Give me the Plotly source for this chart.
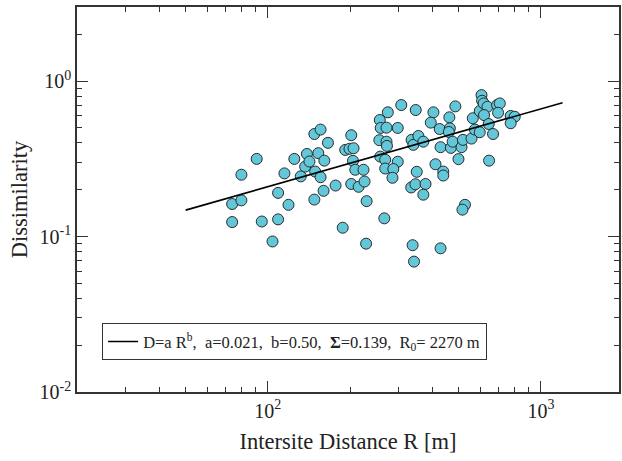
import plotly.graph_objects as go

# Intersite distance R [m] and dissimilarity D
R = [74, 74, 80, 80, 91, 95, 109, 104, 109, 115, 119, 125, 132, 137, 139, 142, 148, 156,
     153, 161, 149, 156, 166, 148, 160, 177, 188, 202, 192, 199, 206, 205, 209, 224, 202,
     215, 226, 230, 267, 257, 275, 259, 272, 299, 308, 256, 272, 273, 258, 269, 299, 269,
     288, 286, 336, 341, 348, 351, 335, 347, 404, 395, 426, 462, 486, 464, 460, 356, 371,
     429, 468, 475, 512, 518, 557, 573, 597, 563, 597, 606, 609, 617, 637, 619, 644, 668,
     691, 707, 697, 775, 802, 775, 499, 646, 411, 439, 439, 378, 371, 527, 516, 229, 339,
     343, 429]
D = [0.162, 0.124, 0.250, 0.171, 0.316, 0.125, 0.129, 0.093, 0.191, 0.255, 0.160, 0.316,
     0.244, 0.282, 0.340, 0.304, 0.457, 0.488, 0.344, 0.308, 0.262, 0.241, 0.401, 0.173,
     0.197, 0.213, 0.114, 0.449, 0.361, 0.367, 0.370, 0.307, 0.269, 0.269, 0.218, 0.209,
     0.226, 0.169, 0.131, 0.562, 0.630, 0.500, 0.502, 0.500, 0.702, 0.417, 0.408, 0.383,
     0.327, 0.312, 0.303, 0.274, 0.272, 0.239, 0.419, 0.389, 0.652, 0.261, 0.207, 0.217,
     0.630, 0.541, 0.492, 0.585, 0.688, 0.497, 0.471, 0.444, 0.408, 0.376, 0.372, 0.408,
     0.376, 0.419, 0.427, 0.488, 0.469, 0.577, 0.642, 0.813, 0.748, 0.719, 0.684, 0.605,
     0.530, 0.457, 0.702, 0.719, 0.626, 0.597, 0.590, 0.536, 0.315, 0.308, 0.292, 0.262,
     0.247, 0.218, 0.186, 0.160, 0.149, 0.090, 0.088, 0.069, 0.084]

# Fitted power law D = a R^b (a=0.021, b=0.50), end points
FIT_R = [50, 1200]
FIT_D = [0.148, 0.727]

LEGEND_TEXT = ("D=a R<sup>b</sup>,  a=0.021,  b=0.50,  <b>Σ</b>=0.139,  "
               "R<sub>0</sub>= 2270 m")

X_TICKS = [100, 1000]
X_TICKTEXT = ["10<sup>2</sup>", "10<sup>3</sup>"]
Y_TICKS = [0.01, 0.1, 1]
Y_TICKTEXT = ["10<sup>-2</sup>", "10<sup>-1</sup>", "10<sup>0</sup>"]

SERIF = "Liberation Serif, Times New Roman, serif"
AX = "#333333"

fig = go.Figure()
fig.add_trace(go.Scatter(
    x=R, y=D, mode="markers", showlegend=False,
    marker=dict(size=11, color="#63C7DA", line=dict(color="#2a2a2a", width=1)),
))
fig.add_trace(go.Scatter(
    x=FIT_R, y=FIT_D, mode="lines", name=LEGEND_TEXT,
    line=dict(color="black", width=1.6),
))

axis_common = dict(
    type="log", showline=True, linecolor=AX, linewidth=1.6, mirror="allticks",
    ticks="inside", ticklen=11, tickwidth=1.4, tickcolor=AX,
    showgrid=False, zeroline=False,
    tickfont=dict(family=SERIF, size=20, color="#222"),
    minor=dict(ticks="inside", ticklen=5, tickwidth=1.2, tickcolor=AX,
               dtick="D1", showgrid=False),
)

fig.update_layout(
    width=622, height=461,
    margin=dict(l=77, r=1, t=7, b=69),
    paper_bgcolor="white", plot_bgcolor="white",
    xaxis=dict(axis_common, range=[1.301, 3.286], tickvals=X_TICKS, ticktext=X_TICKTEXT,
               title=dict(text="Intersite Distance R [m]", standoff=12,
                          font=dict(family=SERIF, size=22.5, color="#222"))),
    yaxis=dict(axis_common, range=[-2, 0.477], tickvals=Y_TICKS, ticktext=Y_TICKTEXT,
               title=dict(text="Dissimilarity", standoff=6,
                          font=dict(family=SERIF, size=22.5, color="#222"))),
    legend=dict(x=0.046, y=0.179, xanchor="left", yanchor="top",
                bordercolor="#333", borderwidth=1.2, bgcolor="white",
                font=dict(family=SERIF, size=16.5, color="#222"),
                itemwidth=30),
)

fig.write_html("out.html")
